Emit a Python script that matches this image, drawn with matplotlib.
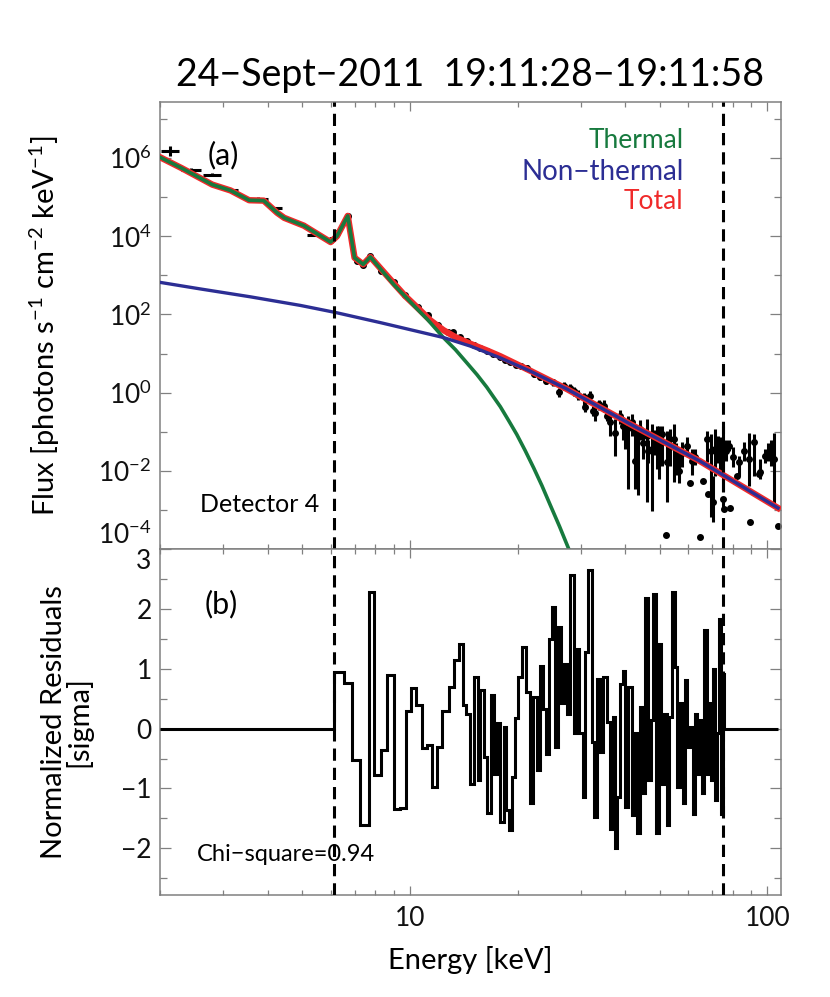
import matplotlib
matplotlib.use("Agg")
import matplotlib.pyplot as plt
import numpy as np
from matplotlib.ticker import FixedLocator, FixedFormatter, NullFormatter, LogFormatterMathtext

# ---- model curves: energy [keV], log10 flux ----
therm_e = [2.0, 2.3, 2.8, 3.15, 3.55, 3.9, 4.25, 4.45, 5.05, 6.0, 6.25, 6.7, 7.0, 7.4, 7.75,
           9.0, 10.5, 11.2, 12.4, 13.4, 14.4, 15.4, 16.4, 17.1, 17.9, 18.9, 19.9, 21.0, 22.2,
           23.4, 24.7, 26.2, 27.7, 29.5]
therm_logf = [6.02, 5.74, 5.32, 5.17, 4.92, 4.91, 4.60, 4.47, 4.27, 3.85, 4.00, 4.52, 3.45, 3.28, 3.47,
              2.77, 2.13, 1.87, 1.41, 1.10, 0.77, 0.46, 0.14, -0.10, -0.36, -0.72, -1.07, -1.48, -1.93,
              -2.38, -2.88, -3.42, -3.96, -4.6]

nonth_e = [2.0, 2.6, 3.58, 4.94, 6.19, 8.27, 12.4, 14.75, 17.88, 21.7, 27.5, 42.2, 64.7, 107.0]
nonth_logf = [2.82, 2.65, 2.45, 2.23, 2.05, 1.79, 1.41, 1.19, 0.89, 0.55, 0.09, -0.85, -1.75, -2.95]

total_e = [2.0, 2.3, 2.8, 3.15, 3.55, 3.9, 4.25, 4.45, 5.05, 6.0, 6.25, 6.7, 7.0, 7.4, 7.75,
           9.0, 9.7, 10.5, 11.4, 12.4, 13.4, 14.4, 15.4, 16.4, 17.9, 21.7, 27.5, 42.2, 64.7, 107.0]
total_logf = [6.02, 5.74, 5.32, 5.17, 4.92, 4.91, 4.60, 4.47, 4.27, 3.85, 4.00, 4.52, 3.45, 3.28, 3.47,
              2.80, 2.47, 2.17, 1.85, 1.60, 1.42, 1.29, 1.18, 1.08, 0.93, 0.56, 0.09, -0.85, -1.75, -2.95]

# ---- low energy data (wide bins) ----
low_elo = [2.01, 2.29, 2.63, 3.15, 3.51, 4.16, 4.84, 5.16]
low_ehi = [2.26, 2.60, 2.96, 3.31, 4.02, 4.40, 5.10, 5.68]
low_logf = [6.17, 5.70, 5.57, 5.19, 4.96, 4.72, 4.32, 4.04]
low_err = [0.13, 0.04, 0.04, 0.03, 0.03, 0.03, 0.03, 0.03]

# ---- data points: energy, log10 flux, lower / upper end of error bar ----
dat_e = [6.0, 6.25, 6.7, 7.1, 7.4, 7.75, 8.3, 9.0, 9.7, 10.5, 11.2, 12.0, 12.8, 13.2, 13.8,
         14.4, 15.1, 15.7, 16.4, 17.1, 17.9, 18.5, 19.1, 19.8,
         20.4, 21.2, 22.2, 23.1, 24.0, 25.2, 26.2, 26.9, 28.1, 28.7, 29.5, 30.6, 30.9, 31.9,
         32.6, 32.9, 33.8, 34.8, 35.5, 36.3, 37.5, 38.7, 39.4, 40.0, 40.8, 41.7, 42.6, 43.3,
         44.0, 44.8, 45.9, 46.4, 47.5, 48.4, 49.0, 49.8, 50.6, 51.9, 52.3, 53.4, 54.6, 55.5,
         56.5, 57.7, 59.5, 60.7, 61.5, 62.7, 64.7, 66.2, 67.6, 68.0, 69.5, 70.5, 71.3, 72.5,
         73.6, 74.9, 75.3, 75.6, 76.5, 77.9, 78.8, 80.0, 82.2, 83.0, 85.7, 88.5, 89.6, 91.5,
         94.5, 95.4, 98.7, 100.5, 102.0, 104.3, 106.8]
dat_logf = [3.90, 4.08, 4.51, 3.36, 3.26, 3.49, 3.12, 2.82, 2.50, 2.19, 1.98, 1.72, 1.56, 1.54, 1.43,
            1.32, 1.22, 1.13, 1.07, 0.99, 0.90, 0.84, 0.78, 0.70,
            0.68, 0.64, 0.47, 0.39, 0.30, 0.26, 0.02, 0.17, 0.13, 0.05, -0.05, -0.12, -0.38, -0.08,
            -0.46, -0.51, -0.30, -0.34, -0.59, -0.76, -1.02, -0.59, -0.85, -1.10, -0.90, -0.76, -1.74, -1.10,
            -0.93, -1.30, -1.10, -1.50, -1.44, -1.20, -1.27, -1.55, -1.06, -3.65, -1.78, -1.40, -1.19, -1.60,
            -2.00, -1.55, -1.36, -2.31, -1.75, -1.65, -3.69, -2.25, -1.19, -2.59, -1.50, -2.80, -1.44, -1.30,
            -1.61, -1.40, -2.72, -2.97, -1.50, -1.36, -2.95, -1.65, -2.12, -1.78, -1.48, -1.70, -3.30, -1.27,
            -2.08, -2.04, -1.61, -1.55, -1.61, -1.70, -3.40]
dat_lo = [3.90, 4.08, 4.51, 3.36, 3.26, 3.49, 3.12, 2.82, 2.50, 2.19, 1.98, 1.72, 1.56, 1.54, 1.43,
          1.32, 1.22, 1.13, 1.07, 0.99, 0.90, 0.84, 0.78, 0.70,
          0.62, 0.58, 0.40, 0.32, 0.22, 0.17, -0.10, 0.07, 0.00, -0.08, -0.20, -0.34, -0.50, -0.20,
          -0.60, -0.72, -0.45, -0.50, -0.72, -1.10, -1.61, -0.80, -1.20, -1.44, -2.46, -1.10, -2.46, -2.63,
          -1.20, -1.70, -2.80, -1.80, -3.02, -1.60, -1.95, -2.21, -1.87, -3.65, -2.80, -1.87, -2.29, -2.10,
          -2.30, -1.90, -1.61, -2.31, -2.10, -1.85, -3.69, -2.25, -1.78, -2.59, -3.17, -3.31, -2.12, -1.80,
          -2.00, -2.55, -2.72, -2.97, -1.75, -1.50, -2.95, -1.90, -2.12, -2.12, -1.75, -2.40, -3.30, -2.12,
          -2.08, -2.20, -1.80, -1.75, -1.87, -2.88, -3.40]
dat_hi = [3.90, 4.08, 4.51, 3.36, 3.26, 3.49, 3.12, 2.82, 2.50, 2.19, 1.98, 1.72, 1.56, 1.54, 1.43,
          1.32, 1.22, 1.13, 1.07, 0.99, 0.90, 0.84, 0.78, 0.70,
          0.74, 0.70, 0.54, 0.46, 0.38, 0.35, 0.12, 0.27, 0.22, 0.15, 0.08, 0.00, -0.25, 0.03,
          -0.34, -0.34, -0.18, -0.20, -0.46, -0.55, -0.68, -0.45, -0.62, -0.85, -0.59, -0.55, -0.93, -0.85,
          -0.70, -1.00, -0.68, -1.20, -0.80, -0.95, -0.85, -0.85, -0.85, -3.65, -0.97, -0.93, -0.79, -1.30,
          -1.60, -1.25, -1.14, -2.31, -1.45, -1.45, -3.69, -2.25, -0.97, -2.59, -1.06, -2.12, -0.93, -1.10,
          -1.14, -0.85, -2.72, -2.97, -1.20, -1.20, -2.95, -1.40, -2.12, -1.61, -1.25, -1.02, -3.30, -1.06,
          -2.08, -1.70, -1.44, -1.30, -1.20, -1.02, -3.40]

# ---- normalized residuals (step histogram) ----
res_edges = [2.0, 6.15, 6.53, 6.89, 7.27, 7.67, 7.95, 8.31, 8.63, 9.01, 9.40, 9.77, 10.09, 10.40,
             10.81, 11.16, 11.53, 11.90, 12.29, 12.83, 13.25, 13.68, 14.07, 14.37, 14.68, 15.06,
             15.46, 15.73, 16.14, 16.42, 16.85, 17.21, 17.51, 17.88, 18.27, 18.59, 18.87, 19.29,
             19.70, 20.00, 20.57, 21.14, 21.60, 22.08, 22.65, 23.14, 23.54, 24.04, 24.56, 24.94,
             25.48, 26.03, 26.44, 27.00, 27.58, 28.06, 28.68, 29.16, 29.78, 30.44, 30.90, 31.56,
             32.26, 32.73, 33.31, 34.02, 34.76, 35.52, 36.28, 36.92, 37.47, 38.03, 38.69, 39.37,
             39.96, 40.81, 41.71, 42.61, 43.25, 44.01, 44.78, 45.54, 46.43, 47.15, 47.94, 48.79,
             49.64, 50.49, 51.37, 52.27, 53.15, 53.97, 55.13, 55.96, 56.93, 57.92, 58.81, 59.69,
             60.73, 61.80, 62.72, 63.65, 64.47, 65.47, 66.45, 67.62, 68.49, 69.38, 70.27, 71.18,
             72.11, 73.04, 73.96, 74.93, 75.56, 107.1]
res_vals = [0.0,
            0.94, 0.76, -0.53, -1.61, 2.28, -0.78, -0.35, 0.90, -1.35, -1.32, 0.29, 0.68, 0.39,
            -0.33, -0.28, -0.97, -0.31, 0.29, 0.69, 1.14, 1.42, 0.39, 0.25, -0.92, 0.86, -0.86,
            0.64, -0.47, -1.41, 0.56, -0.75, 0.09, -1.56, 0.03, -1.36, -1.70, -0.81, 0.17, 0.86,
            1.36, 0.61, -1.25, 0.53, -0.69, 1.04, 0.33, -0.42, 1.50, 2.03, -0.31, 1.69, 0.42,
            1.08, 0.25, 2.56, -0.08, 1.33, -0.08, -1.14, 1.28, 2.65, -0.22, -1.47, 0.83, -0.39,
            0.86, 0.11, -1.67, 0.19, -2.00, -1.14, 0.75, 0.97, -1.31, 0.69, -1.44, -0.08, -1.75,
            0.36, -1.08, 2.19, -0.86, 0.14, 2.25, -1.75, 1.42, -0.92, 0.25, -1.61, 0.19, 2.28,
            1.03, -0.97, 0.42, -1.25, 0.81, -0.31, 0.03, -1.42, 0.25, -0.75, 0.14, -1.08, 1.64,
            -0.75, 0.42, -0.86, 1.00, -1.20, -0.08, 1.83, -1.42, 0.92,
            0.0]

fit_range = [6.15, 75.3]

green = '#177a3e'
blue = '#2c2e94'
red = '#f02a2a'
frame = '#808080'

plt.rcParams['font.family'] = ['Lato', 'DejaVu Sans']
plt.rcParams['mathtext.fontset'] = 'custom'
plt.rcParams['mathtext.rm'] = 'Lato'
plt.rcParams['mathtext.it'] = 'Lato:italic'
plt.rcParams['mathtext.bf'] = 'Lato:bold'

fig = plt.figure(figsize=(8.3, 9.97), dpi=100)
ax1 = fig.add_axes([0.1928, 0.4493, 0.748, 0.4487])
ax2 = fig.add_axes([0.1928, 0.1023, 0.748, 0.3470], sharex=ax1)

dash = (0, (4, 2.3))

# top panel: spectrum
pw = lambda v: np.power(10.0, np.asarray(v, dtype=float))
ax1.vlines(dat_e, pw(dat_lo), pw(dat_hi), color='k', lw=2.2, zorder=2)
ax1.plot(dat_e, pw(dat_logf), 'o', color='k', ms=4, zorder=2)
low_c = np.sqrt(np.array(low_elo) * np.array(low_ehi))
ax1.hlines(pw(low_logf), low_elo, low_ehi, color='k', lw=2.2, zorder=2)
ax1.vlines(low_c, pw(np.array(low_logf) - np.array(low_err)),
           pw(np.array(low_logf) + np.array(low_err)), color='k', lw=2.2, zorder=2)

ax1.plot(total_e, pw(total_logf), color=red, lw=4.6, zorder=3, solid_joinstyle='round')
ax1.plot(therm_e, pw(therm_logf), color=green, lw=2.6, zorder=4)
ax1.plot(nonth_e, pw(nonth_logf), color=blue, lw=2.4, zorder=5)

for e in fit_range:
    ax1.axvline(e, color='k', lw=2.2, ls=dash, zorder=6)
    ax2.axvline(e, color='k', lw=2.2, ls=dash, zorder=6)

ax1.set_xscale('log')
ax1.set_yscale('log')
ax1.set_xlim(2.0, 109.0)
ax1.set_ylim(1e-4, 10 ** 7.44)
ax1.yaxis.set_major_locator(FixedLocator([1e-4, 1e-2, 1, 1e2, 1e4, 1e6]))
ax1.yaxis.set_minor_locator(FixedLocator([1e-3, 1e-1, 10, 1e3, 1e5, 1e7]))
ax1.yaxis.set_major_formatter(LogFormatterMathtext())
ax1.yaxis.set_minor_formatter(NullFormatter())
ax1.set_ylabel(r'Flux [photons s$^{-1}$ cm$^{-2}$ keV$^{-1}$]', fontsize=21, va='center')
ax1.yaxis.set_label_coords(-0.185, 0.5)

ax1.text(0.843, 0.914, 'Thermal', color=green, fontsize=19, ha='right', va='center', transform=ax1.transAxes)
ax1.text(0.843, 0.8435, 'Non\u2212thermal', color=blue, fontsize=20, ha='right', va='center', transform=ax1.transAxes)
ax1.text(0.843, 0.7764, 'Total', color=red, fontsize=19, ha='right', va='center', transform=ax1.transAxes)
ax1.text(0.076, 0.88, '(a)', fontsize=22, ha='left', va='center', transform=ax1.transAxes)
ax1.text(0.0644, 0.1006, 'Detector 4', fontsize=18, ha='left', va='center', transform=ax1.transAxes)

# bottom panel: residuals
ax2.stairs(res_vals, res_edges[:len(res_vals) + 1], color='k', lw=2.2, baseline=None, zorder=3)
ax2.set_ylim(-2.78, 3.0)
ax2.yaxis.set_major_locator(FixedLocator([-2, -1, 0, 1, 2, 3]))
ax2.yaxis.set_major_formatter(FixedFormatter(['\u22122', '\u22121', '0', '1', '2', '3']))
ax2.yaxis.set_minor_locator(FixedLocator([-2.5, -1.5, -0.5, 0.5, 1.5, 2.5]))
ax2.xaxis.set_major_locator(FixedLocator([10, 100]))
ax2.xaxis.set_major_formatter(FixedFormatter(['10', '100']))
ax2.xaxis.set_minor_locator(FixedLocator([2, 3, 4, 5, 6, 7, 8, 9, 20, 30, 40, 50, 60, 70, 80, 90]))
ax2.xaxis.set_minor_formatter(NullFormatter())
ax2.set_xlabel('Energy [keV]', fontsize=21)
ax2.xaxis.label.set_va('center')
ax2.xaxis.set_label_coords(0.5, -0.188)
ax2.set_ylabel('Normalized Residuals\n[sigma]', fontsize=21, linespacing=0.9, va='center')
ax2.yaxis.set_label_coords(-0.15, 0.5)
ax2.text(0.0725, 0.8396, '(b)', fontsize=22, ha='left', va='center', transform=ax2.transAxes)
ax2.text(0.059, 0.1185, 'Chi\u2212square=0.94', fontsize=17, ha='left', va='center', transform=ax2.transAxes)

for ax in (ax1, ax2):
    for s in ax.spines.values():
        s.set_color(frame)
        s.set_linewidth(1.1)
    ax.tick_params(which='both', direction='in', top=True, right=True, color=frame,
                   width=0.9, labelsize=19, labelcolor='#111111')
    ax.tick_params(axis='y', which='major', length=8, pad=6)
    ax.tick_params(axis='y', which='minor', length=5)
    ax.tick_params(axis='x', which='major', length=6.5, pad=8)
    ax.tick_params(axis='x', which='minor', length=3.5)
ax1.tick_params(axis='x', labelbottom=False)

fig.text(0.566, 0.925, '24\u2212Sept\u22122011  19:11:28\u221219:11:58', fontsize=27,
         ha='center', va='center')

fig.canvas.draw()
ax2.get_yticklabels()[-1].set_va('top')
ax1.get_yticklabels()[0].set_va('bottom')

fig.savefig('out.png', dpi=100)
